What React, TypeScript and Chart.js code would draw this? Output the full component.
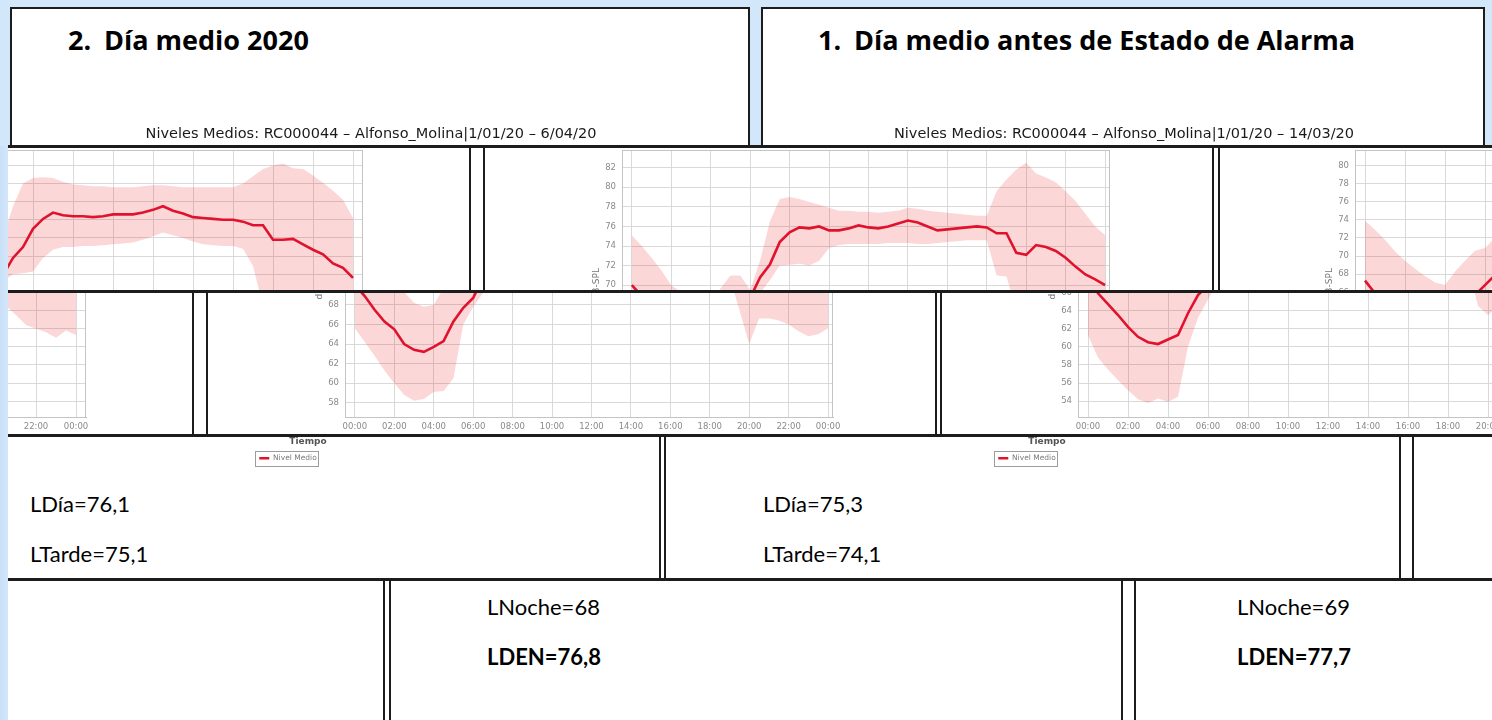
import React, { useEffect, useRef } from "react";
import { Chart, registerables } from "chart.js";

Chart.register(...registerables);

// ---------- data ----------
const HOURS = [
  0, 0.5, 1, 1.5, 2, 2.5, 3, 3.5, 4, 4.5, 5, 5.5, 6, 6.5, 7, 7.5, 8, 8.5, 9, 9.5,
  10, 10.5, 11, 11.5, 12, 12.5, 13, 13.5, 14, 14.5, 15, 15.5, 16, 16.5, 17, 17.5,
  18, 18.5, 19, 19.5, 20, 20.5, 21, 21.5, 22, 22.5, 23, 23.5, 24,
];

const X_TICK_LABELS = [
  "00:00", "02:00", "04:00", "06:00", "08:00", "10:00", "12:00",
  "14:00", "16:00", "18:00", "20:00", "22:00", "00:00",
];

// "2. Día medio 2020" (1/01/20 - 6/04/20)
const A_MEAN = [
  67.3, 65.9, 64.7, 63.5, 62.2, 61.1, 60.5, 60.3, 60.8, 61.3,
  63.7, 65.7, 66.8, 67.9, 69.8, 71.0, 73.0, 74.1, 74.8, 74.5,
  74.4, 74.4, 74.3, 74.4, 74.6, 74.6, 74.6, 74.8, 75.1, 75.5,
  75.0, 74.7, 74.3, 74.2, 74.1, 74.0, 74.0, 73.8, 73.4, 73.4,
  71.8, 71.8, 71.9, 71.3, 70.7, 70.2, 69.2, 68.7, 67.6,
];
const A_UPPER = [
  73.9, 72.9, 71.8, 70.5, 69.5, 68.6, 67.8, 67.1, 66.8, 68.3,
  69.5, 70.6, 70.9, 72.0, 75.5, 78.0, 78.6, 78.7, 78.6, 78.2,
  77.9, 77.8, 77.7, 77.7, 77.6, 77.6, 77.6, 77.7, 77.8, 77.8,
  77.7, 77.6, 77.6, 77.6, 77.6, 77.6, 77.6, 78.0, 78.8, 79.6,
  80.0, 80.2, 79.7, 79.6, 78.9, 78.1, 77.2, 76.2, 74.2,
];
const A_LOWER = [
  61.3, 58.8, 57.5, 56.3, 55.2, 54.2, 53.8, 54.3, 53.9, 54.5,
  60.0, 63.2, 65.2, 67.2, 68.0, 68.1, 68.3, 69.8, 70.7, 71.0,
  71.0, 71.1, 71.1, 71.2, 71.3, 71.4, 71.5, 71.8, 72.2, 72.6,
  72.3, 72.0, 71.6, 71.3, 71.2, 71.1, 71.1, 70.8, 68.9, 64.5,
  63.5, 64.5, 63.5, 62.4, 62.0, 61.6, 61.0, 61.8, 61.3,
];

// "1. Día medio antes de Estado de Alarma" (1/01/20 - 14/03/20)
const B_MEAN = [
  70.0, 68.9, 67.5, 66.3, 65.5, 64.0, 63.4, 63.2, 63.7, 64.3,
  66.3, 67.7, 68.7, 70.8, 72.1, 74.4, 75.4, 75.9, 75.8, 76.0,
  75.6, 75.6, 75.8, 76.1, 75.9, 75.8, 76.0, 76.3, 76.6, 76.4,
  76.0, 75.6, 75.7, 75.8, 75.9, 76.0, 75.9, 75.3, 75.3, 73.3,
  73.1, 74.1, 73.9, 73.5, 72.8, 71.9, 71.1, 70.6, 70.0,
];
const B_UPPER = [
  75.1, 74.0, 72.8, 71.5, 70.0, 69.3, 68.2, 67.8, 68.0, 69.7,
  71.0, 71.0, 69.5, 72.5, 76.5, 78.8, 79.0, 78.8, 78.5, 78.2,
  77.9, 77.6, 77.6, 77.5, 77.5, 77.4, 77.5, 77.6, 77.9, 77.8,
  77.6, 77.5, 77.4, 77.3, 77.2, 77.1, 77.1, 79.6, 80.8, 81.8,
  82.5, 81.4, 81.0, 80.5, 79.6, 78.6, 77.3, 76.0, 75.1,
];
const B_LOWER = [
  65.6, 64.2, 62.8, 61.3, 60.0, 58.8, 58.2, 58.4, 59.1, 59.2,
  60.5, 66.0, 67.8, 69.2, 70.5, 72.0, 72.1, 72.2, 72.0, 72.5,
  73.8, 74.1, 74.2, 74.2, 74.2, 74.2, 74.3, 74.3, 74.3, 74.2,
  74.2, 74.3, 74.4, 74.5, 74.6, 74.6, 74.6, 71.0, 70.9, 67.5,
  64.0, 66.6, 66.6, 66.4, 66.0, 65.3, 64.8, 65.0, 65.6,
];

const A_TITLE = "Niveles Medios: RC000044 – Alfonso_Molina|1/01/20 – 6/04/20";
const B_TITLE = "Niveles Medios: RC000044 – Alfonso_Molina|1/01/20 – 14/03/20";
const LEGEND_LABEL = "Nivel Medio";
const X_TITLE = "Tiempo";
const Y_TITLE = "dB-SPL";

const A_HEADING_NUM = "2.";
const A_HEADING = "Día medio 2020";
const B_HEADING_NUM = "1.";
const B_HEADING = "Día medio antes de Estado de Alarma";

const A_LDIA = "LDía=75,3";
const A_LTARDE = "LTarde=74,1";
const A_LNOCHE = "LNoche=68";
const A_LDEN = "LDEN=76,8";
const B_LDIA = "LDía=76,1";
const B_LTARDE = "LTarde=75,1";
const B_LNOCHE = "LNoche=69";
const B_LDEN = "LDEN=77,7";

// ---------- styles ----------
const BAND = "rgba(240, 20, 20, 0.17)";
const RED = "#e0122d";
const LIGHT_BLUE = "#d3e7fa";
const GRID = "#d9d9d9";
const TICK = "#8a8a8a";
const AXIS_FONT = "'DejaVu Sans', sans-serif";

type Spec = {
  title: string;
  mean: number[];
  upper: number[];
  lower: number[];
  yMin: number;
  yMax: number;
  xMin: number;
  xMax: number;
  rightPad: number;
};

const CHART_A: Spec = {
  title: A_TITLE, mean: A_MEAN, upper: A_UPPER, lower: A_LOWER,
  yMin: 52.2, yMax: 81.7, xMin: -0.5, xMax: 24.5, rightPad: 38,
};
const CHART_B: Spec = {
  title: B_TITLE, mean: B_MEAN, upper: B_UPPER, lower: B_LOWER,
  yMin: 56.5, yMax: 83.8, xMin: -0.5, xMax: 24.25, rightPad: 12,
};

const framePlugin = {
  id: "frame",
  beforeDatasetsDraw(chart: any) {
    const { ctx, chartArea: a } = chart;
    ctx.save();
    ctx.strokeStyle = "#c4c4c4";
    ctx.lineWidth = 1;
    ctx.strokeRect(
      Math.round(a.left) + 0.5,
      Math.round(a.top) + 0.5,
      Math.round(a.right - a.left) - 1,
      Math.round(a.bottom - a.top) - 1
    );
    ctx.restore();
  },
  afterDraw(chart: any) {
    const hb = chart.legend && chart.legend.legendHitBoxes && chart.legend.legendHitBoxes[0];
    if (!hb) return;
    const ctx = chart.ctx;
    ctx.save();
    ctx.strokeStyle = "#9c9c9c";
    ctx.lineWidth = 1;
    ctx.strokeRect(Math.round(hb.left) - 3.5, Math.round(hb.top) - 3.5, Math.round(hb.width) + 6, Math.round(hb.height) + 7);
    ctx.restore();
  },
};

function buildConfig(spec: Spec): any {
  const pts = (arr: number[]) => HOURS.map((h, i) => ({ x: h, y: arr[i] }));
  return {
    type: "line",
    data: {
      datasets: [
        {
          label: LEGEND_LABEL,
          data: pts(spec.mean),
          borderColor: RED,
          backgroundColor: RED,
          borderWidth: 2.6,
          pointRadius: 0,
          fill: false,
          tension: 0,
        },
        {
          label: "max",
          data: pts(spec.upper),
          borderColor: "rgba(0,0,0,0)",
          borderWidth: 1,
          pointRadius: 0,
          backgroundColor: BAND,
          fill: "+1",
          tension: 0,
        },
        {
          label: "min",
          data: pts(spec.lower),
          borderColor: "rgba(0,0,0,0)",
          borderWidth: 1,
          pointRadius: 0,
          fill: false,
          tension: 0,
        },
      ],
    },
    options: {
      responsive: false,
      maintainAspectRatio: false,
      animation: false,
      events: [],
      layout: { padding: { left: 0, right: spec.rightPad, top: 0, bottom: 0 } },
      plugins: {
        title: {
          display: true,
          text: spec.title,
          color: "#1a1a1a",
          font: { family: AXIS_FONT, size: 14.5, weight: "normal" },
          padding: { top: 7.3, bottom: 7.3 },
        },
        legend: {
          display: true,
          position: "bottom",
          labels: {
            filter: (item: any) => item.text === LEGEND_LABEL,
            usePointStyle: true,
            pointStyle: "line",
            pointStyleWidth: 10,
            boxHeight: 8,
            color: "#7a7a7a",
            font: { family: AXIS_FONT, size: 7.5 },
            padding: 6,
          },
        },
        tooltip: { enabled: false },
      },
      scales: {
        x: {
          type: "linear",
          min: spec.xMin,
          max: spec.xMax,
          ticks: {
            stepSize: 2,
            includeBounds: false,
            autoSkip: false,
            maxRotation: 0,
            minRotation: 0,
            padding: 4.5,
            color: TICK,
            font: { family: AXIS_FONT, size: 8.5 },
            callback: (v: any) => X_TICK_LABELS[Math.round(Number(v) / 2)] ?? "",
          },
          grid: { color: GRID, drawTicks: false, lineWidth: 1 },
          border: { display: true, color: "#bdbdbd" },
          title: {
            display: true,
            text: X_TITLE,
            color: "#555",
            font: { family: AXIS_FONT, size: 9, weight: "bold" },
            padding: { top: 0, bottom: 1 },
          },
          afterFit: (s: any) => {
            s.paddingLeft = 0;
            s.paddingRight = 0;
          },
        },
        y: {
          min: spec.yMin,
          max: spec.yMax,
          ticks: {
            stepSize: 2,
            includeBounds: false,
            padding: 6,
            color: TICK,
            font: { family: AXIS_FONT, size: 8.5 },
          },
          grid: { color: GRID, drawTicks: false, lineWidth: 1 },
          border: { display: true, color: "#bdbdbd" },
          title: {
            display: true,
            text: Y_TITLE,
            color: "#777",
            font: { family: AXIS_FONT, size: 9 },
            padding: { top: 9.6, bottom: 0 },
          },
          afterFit: (s: any) => {
            s.width = 40;
            s.paddingTop = 0;
            s.paddingBottom = 0;
          },
        },
      },
    },
    plugins: [framePlugin],
  };
}

function BandChart({ spec, left, top, width, height }: { spec: Spec; left: number; top: number; width: number; height: number }) {
  const ref = useRef<HTMLCanvasElement>(null);
  useEffect(() => {
    if (!ref.current) return;
    const chart = new Chart(ref.current, buildConfig(spec));
    return () => chart.destroy();
  }, [spec]);
  return (
    <canvas
      ref={ref}
      width={width}
      height={height}
      style={{ position: "absolute", left, top, width, height }}
    />
  );
}

const headingStyle: React.CSSProperties = {
  position: "absolute",
  fontFamily: "'Open Sans', sans-serif",
  fontWeight: 700,
  fontSize: 27,
  lineHeight: "27px",
  color: "#000",
  whiteSpace: "nowrap",
};
const valueStyle: React.CSSProperties = {
  position: "absolute",
  fontFamily: "Lato, sans-serif",
  fontSize: 22,
  lineHeight: "22px",
  color: "#000",
  whiteSpace: "nowrap",
};
const boxStyle: React.CSSProperties = {
  position: "absolute",
  boxSizing: "border-box",
  border: "2px solid #1c1c1c",
  background: "#fff",
};

// Unshifted composition of the slide
function Page({ left, top }: { left: number; top: number }) {
  return (
    <div style={{ position: "absolute", left, top, width: 1492, height: 720, background: "#fff" }}>
      <div style={{ position: "absolute", left: 0, top: 0, width: 1492, height: 147, background: LIGHT_BLUE }} />
      <div style={{ ...boxStyle, left: 10, top: 7, width: 740, height: 141 }} />
      <div style={{ ...boxStyle, left: 761, top: 7, width: 724, height: 141 }} />
      <span style={{ ...headingStyle, left: 68, top: 26 }}>{A_HEADING_NUM}</span>
      <span style={{ ...headingStyle, left: 104, top: 26 }}>{A_HEADING}</span>
      <span style={{ ...headingStyle, left: 818, top: 26 }}>{B_HEADING_NUM}</span>
      <span style={{ ...headingStyle, left: 854, top: 26 }}>{B_HEADING}</span>

      <BandChart spec={CHART_A} left={101} top={118} width={578} height={354} />
      <BandChart spec={CHART_B} left={860} top={118} width={540} height={354} />

      <span style={{ ...valueStyle, left: 107, top: 493 }}>{A_LDIA}</span>
      <span style={{ ...valueStyle, left: 107, top: 543 }}>{A_LTARDE}</span>
      <span style={{ ...valueStyle, left: 113, top: 596 }}>{A_LNOCHE}</span>
      <span style={{ ...valueStyle, left: 113, top: 646, fontWeight: 700 }}>{A_LDEN}</span>

      <span style={{ ...valueStyle, left: 866, top: 493 }}>{B_LDIA}</span>
      <span style={{ ...valueStyle, left: 866, top: 543 }}>{B_LTARDE}</span>
      <span style={{ ...valueStyle, left: 863, top: 596 }}>{B_LNOCHE}</span>
      <span style={{ ...valueStyle, left: 863, top: 646, fontWeight: 700 }}>{B_LDEN}</span>
    </div>
  );
}

// Horizontal bands of the picture, each displaced sideways (wrapping round)
const STRIPS = [
  { top: 0, bottom: 146, shift: 0 },
  { top: 146, bottom: 291, shift: 1214 },
  { top: 291, bottom: 435, shift: 937 },
  { top: 435, bottom: 579, shift: 656 },
  { top: 579, bottom: 720, shift: 374 },
];

const SEAMS = [
  { top: 146, bottom: 291, xs: [470, 484, 1213, 1219] },
  { top: 291, bottom: 435, xs: [193, 207, 936, 941] },
  { top: 435, bottom: 579, xs: [660, 665, 1400, 1413] },
  { top: 579, bottom: 720, xs: [384, 390, 1122, 1135] },
];

const RULES = [146, 291, 435, 579];

export default function App() {
  return (
    <div
      style={{
        position: "fixed",
        left: 0,
        top: 0,
        width: 1492,
        height: 720,
        overflow: "hidden",
        background: "#fff",
      }}
    >
      {STRIPS.map((s, i) => (
        <div
          key={i}
          style={{ position: "absolute", left: 0, top: s.top, width: 1492, height: s.bottom - s.top, overflow: "hidden" }}
        >
          <Page left={s.shift} top={-s.top} />
          {s.shift !== 0 && <Page left={s.shift - 1492} top={-s.top} />}
        </div>
      ))}

      <div
        style={{
          position: "absolute",
          left: 0,
          top: 146,
          width: 8,
          height: 574,
          background: `linear-gradient(to right, #c9e0f7, ${LIGHT_BLUE})`,
        }}
      />

      {RULES.map((y, i) => (
        <div key={"r" + i} style={{ position: "absolute", left: 8, top: y - 1, width: 1484, height: 3, background: "#1c1c1c" }} />
      ))}

      {SEAMS.map((s, i) =>
        s.xs.map((x, j) => (
          <div
            key={"s" + i + "-" + j}
            style={{ position: "absolute", left: x - 1, top: s.top, width: 2, height: s.bottom - s.top, background: "#1c1c1c" }}
          />
        ))
      )}
    </div>
  );
}
